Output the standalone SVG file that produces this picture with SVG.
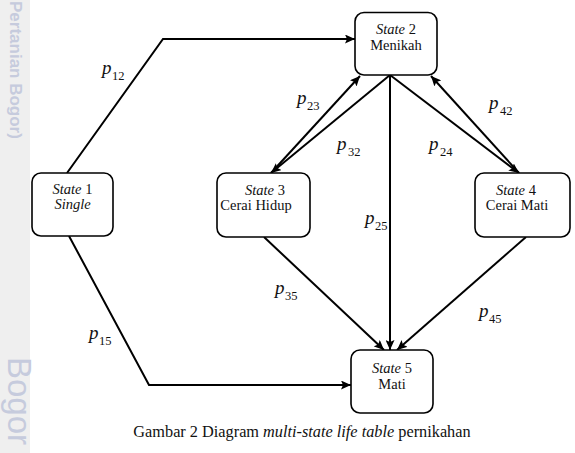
<svg xmlns="http://www.w3.org/2000/svg" width="575" height="453" viewBox="0 0 575 453">
<style>
.box{fill:#fff;stroke:#000;stroke-width:1.6}
.lbl{font-family:"Liberation Serif","Times New Roman",serif;font-size:14.5px;fill:#111;text-anchor:middle}
.it{font-style:italic}
.edge{fill:none;stroke:#000;stroke-width:2}
.p{font-family:"Liberation Serif","DejaVu Serif",serif;font-style:italic;font-size:19px;fill:#111}
.sub{font-family:"Liberation Serif","DejaVu Serif",serif;font-size:12.5px;fill:#111}
.wm{font-family:"Liberation Sans",Arial,sans-serif;fill:#c6cbdd}
.cap{font-family:"Liberation Serif","Times New Roman",serif;font-size:16.3px;fill:#111;text-anchor:middle}
</style>
<defs>
<marker id="ah" markerUnits="userSpaceOnUse" markerWidth="11" markerHeight="9" refX="10" refY="4.5" orient="auto">
<path d="M0,0 L10,4.5 L0,9 L2,4.5 z" fill="#000"/>
</marker>
</defs>
<rect width="575" height="453" fill="#fff"/>
<g id="watermark">
<rect x="0" y="0" width="30" height="453" fill="#efefef"/>
<text class="wm" font-weight="bold" font-size="17" transform="translate(10,1) rotate(90)">Pertanian Bogor)</text>
<text class="wm" font-size="33" transform="translate(8,357) rotate(90)">Bogor</text>
</g>
<g id="connectors">
<polyline class="edge" points="67,173 163,39 355,39" marker-end="url(#ah)"/>
<polyline class="edge" points="69,236 149,385 351,385" marker-end="url(#ah)"/>
<line class="edge" x1="271" y1="173" x2="360" y2="76" marker-end="url(#ah)"/>
<line class="edge" x1="390" y1="75" x2="271" y2="173" marker-end="url(#ah)"/>
<line class="edge" x1="519" y1="173" x2="431" y2="76" marker-end="url(#ah)"/>
<line class="edge" x1="390" y1="75" x2="519" y2="173" marker-end="url(#ah)"/>
<line class="edge" x1="390" y1="75" x2="390" y2="350" marker-end="url(#ah)"/>
<line class="edge" x1="264" y1="237" x2="384" y2="350" marker-end="url(#ah)"/>
<line class="edge" x1="526" y1="237" x2="397" y2="350" marker-end="url(#ah)"/>
</g>
<g id="labels">
<text class="p" x="102" y="74">p</text><text class="sub" x="112" y="80">12</text>
<text class="p" x="89" y="339">p</text><text class="sub" x="99" y="345">15</text>
<text class="p" x="297" y="104">p</text><text class="sub" x="307" y="110">23</text>
<text class="p" x="337" y="150">p</text><text class="sub" x="348" y="156">32</text>
<text class="p" x="429" y="150">p</text><text class="sub" x="440" y="156">24</text>
<text class="p" x="365" y="224">p</text><text class="sub" x="375" y="230">25</text>
<text class="p" x="489" y="109">p</text><text class="sub" x="500" y="115">42</text>
<text class="p" x="275" y="294">p</text><text class="sub" x="285" y="300">35</text>
<text class="p" x="479" y="317">p</text><text class="sub" x="489" y="323">45</text>
</g>
<g id="state1">
<rect class="box" x="32" y="173" width="81" height="63" rx="9"/>
<text class="lbl" x="72.5" y="194"><tspan class="it">State</tspan> 1</text>
<text class="lbl it" x="72.5" y="209">Single</text>
</g>
<g id="state2">
<rect class="box" x="355" y="12.5" width="82" height="62.5" rx="9"/>
<text class="lbl" x="396" y="34"><tspan class="it">State</tspan> 2</text>
<text class="lbl" x="396" y="50">Menikah</text>
</g>
<g id="state3">
<rect class="box" x="217" y="173" width="93" height="64" rx="9"/>
<text class="lbl" x="265" y="195"><tspan class="it">State</tspan> 3</text>
<text class="lbl" x="256" y="210">Cerai Hidup</text>
</g>
<g id="state4">
<rect class="box" x="475" y="173" width="95" height="64" rx="9"/>
<text class="lbl" x="516" y="195"><tspan class="it">State</tspan> 4</text>
<text class="lbl" x="517" y="210">Cerai Mati</text>
</g>
<g id="state5">
<rect class="box" x="351" y="350" width="82" height="63" rx="9"/>
<text class="lbl" x="392" y="373"><tspan class="it">State</tspan> 5</text>
<text class="lbl" x="392" y="389">Mati</text>
</g>
<text class="cap" x="302" y="437">Gambar 2 Diagram <tspan font-style="italic">multi-state life table</tspan> pernikahan</text>
</svg>
